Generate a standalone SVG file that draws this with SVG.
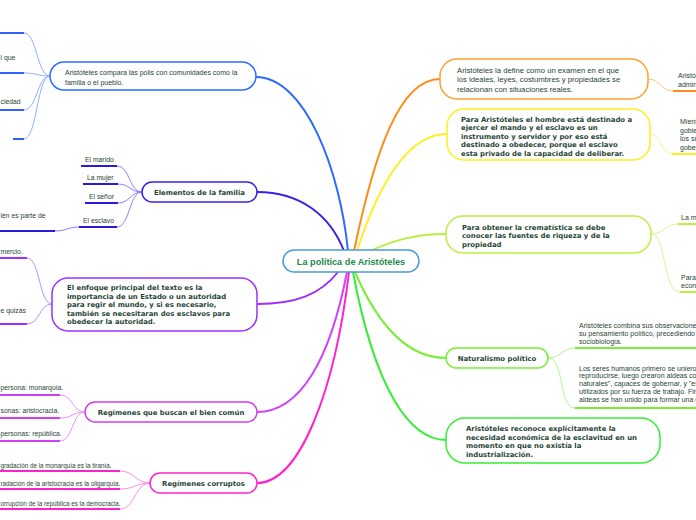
<svg xmlns="http://www.w3.org/2000/svg" width="696" height="520" viewBox="0 0 696 520">
<style>
.box{fill:#fff;stroke-width:1.5}
.t{font-family:"Liberation Sans",Arial,sans-serif;font-size:7px;fill:#1f4535}
.tn{font-family:"Liberation Sans",Arial,sans-serif;font-size:7.7px;fill:#1f4535}
.tb{font-family:"DejaVu Sans",Verdana,sans-serif;font-size:6.9px;font-weight:bold;fill:#1f4535}
.ts{font-family:"Liberation Sans",Arial,sans-serif;font-size:6.8px;fill:#1f4535}
.tc{font-family:"Liberation Sans",Arial,sans-serif;font-size:6.3px;fill:#1f4535}
.main{fill:none;stroke-width:2}
.sub{fill:none;stroke-width:1}
.ul{fill:none;stroke-width:2}
</style>
<g id="connectors">
  <path class="main" stroke="#2b6cff" d="M348,251 C340,170 305,77 256,77"/>
  <path class="main" stroke="#3d1fe8" d="M344,251 C330,215 300,192 257,192"/>
  <path class="main" stroke="#ff8c1a" d="M354,251 C375,150 400,79 440,79"/>
  <path class="main" stroke="#ffee22" d="M357,251 C380,180 410,134 447,134"/>
  <path class="main" stroke="#bbf040" d="M370,251 C395,240 415,234 446,234"/>
  <path class="main" stroke="#9b30ff" d="M338,272 C320,295 295,304 257,304"/>
  <path class="main" stroke="#cc44ff" d="M347,272 C330,360 300,412 257,412"/>
  <path class="main" stroke="#ff22cc" d="M349,272 C335,390 300,483 257,483"/>
  <path class="main" stroke="#77ee33" d="M355,272 C380,330 410,358 446,358"/>
  <path class="main" stroke="#33ee33" d="M353,272 C375,390 410,440 446,440"/>
  <g stroke="#8fb0ff" class="sub">
    <path d="M50,76 C37,76 37,33 24,33"/>
    <path d="M50,76 C37,76 37,73 24,73"/>
    <path d="M50,76 C37,76 37,110 24,110"/>
    <path d="M50,76 C37,76 37,139 24,139"/>
  </g>
  <g stroke="#3060ff" class="ul">
    <path d="M0,33 H24"/><path d="M0,73 H24"/><path d="M0,110 H24"/><path d="M13,139 H24"/>
  </g>
  <g stroke="#8a80ff" class="sub">
    <path d="M142,192 C129,192 130,166 117,166"/>
    <path d="M142,192 C130,192 130,184 118,184"/>
    <path d="M142,192 C130,192 130,203 118,203"/>
    <path d="M142,192 C129,192 130,227 117,227"/>
    <path d="M79,227 C67,227 67,231 55,231"/>
  </g>
  <g stroke="#2a1ae0" class="ul">
    <path d="M81,166 H117"/><path d="M83,184 H118"/><path d="M85,203 H118"/><path d="M79,227 H117"/><path d="M0,231 H55"/>
  </g>
  <g stroke="#c090ff" class="sub">
    <path d="M52,304 C39,304 40,258 27,258"/>
    <path d="M52,304 C39,304 40,324 27,324"/>
  </g>
  <g stroke="#9a30ff" class="ul">
    <path d="M0,258 H27"/><path d="M0,324 H27"/>
  </g>
  <g stroke="#e890ff" class="sub">
    <path d="M85,412 C72,412 73,395 60,395"/>
    <path d="M85,412 C72,412 73,418 60,418"/>
    <path d="M85,412 C72,412 73,441 60,441"/>
  </g>
  <g stroke="#d040f0" class="ul">
    <path d="M0,395 H60"/><path d="M0,418 H60"/><path d="M0,441 H60"/>
  </g>
  <g stroke="#ff90e0" class="sub">
    <path d="M150,483 C135,483 135,471 120,471"/>
    <path d="M150,483 C135,483 135,489 120,489"/>
    <path d="M150,483 C135,483 135,509 120,509"/>
  </g>
  <g stroke="#ff22cc" class="ul">
    <path d="M0,471 H120"/><path d="M0,489 H120"/><path d="M0,509 H120"/>
  </g>
  <path class="sub" stroke="#ffc880" d="M648,79 C660,79 661,91 673,91"/>
  <path class="ul" stroke="#ff8c1a" d="M673,91 H696"/>
  <path class="sub" stroke="#fff080" d="M650,134 C661,134 661,154 672,154"/>
  <path class="ul" stroke="#ffee22" d="M672,154 H696"/>
  <path class="sub" stroke="#d8f890" d="M651,234 C665,234 664,224 678,224"/>
  <path class="sub" stroke="#d8f890" d="M651,234 C667,234 662,292 680,292"/>
  <path class="ul" stroke="#bbf040" d="M678,224 H696"/>
  <path class="ul" stroke="#bbf040" d="M680,292 H696"/>
  <path class="sub" stroke="#b0f890" d="M548,358 C562,358 561,348 575,348"/>
  <path class="sub" stroke="#b0f890" d="M548,358 C565,358 558,408 575,408"/>
  <path class="ul" stroke="#77ee33" d="M575,348 H696"/>
  <path class="ul" stroke="#77ee33" d="M575,408 H696"/>
</g>

<g id="center">
  <rect class="box" x="283" y="250" width="136" height="22" rx="11" stroke="#4a9ad8"/>
  <text x="351" y="264.5" text-anchor="middle" font-family="Liberation Sans, Arial, sans-serif" font-size="9.2" font-weight="bold" fill="#1d8a4b">La política de Aristóteles</text>
</g>

<g id="node-polis">
  <rect class="box" x="50" y="62" width="206" height="28" rx="14" stroke="#2b6cff"/>
  <text class="t" x="65" y="75">Aristóteles compara las polis con comunidades como la</text>
  <text class="t" x="65" y="84.5">familia o el pueblo.</text>
</g>
<g id="polis-subs">
  <text class="ts" x="0.5" y="60">l que</text>
  <text class="ts" x="0.5" y="104">ciedad</text>
</g>

<g id="node-familia">
  <rect class="box" x="142" y="182" width="115" height="20" rx="10" stroke="#3d1fe8"/>
  <text class="tb" x="199.5" y="194.5" text-anchor="middle">Elementos de la familia</text>
</g>
<g id="familia-subs">
  <text class="ts" x="85" y="161.5">El marido</text>
  <text class="ts" x="87" y="179.5">La mujer</text>
  <text class="ts" x="89" y="198.5">El señor</text>
  <text class="ts" x="83" y="222.5">El esclavo</text>
  <text class="ts" x="0.5" y="217.5">ién es parte de</text>
</g>

<g id="node-enfoque">
  <rect class="box" x="52" y="278" width="205" height="53" rx="16" stroke="#9b30ff"/>
  <text class="tb" x="67" y="290">El enfoque principal del texto es la</text>
  <text class="tb" x="67" y="298.5">importancia de un Estado o un autoridad</text>
  <text class="tb" x="67" y="307">para regir el mundo, y si es necesario,</text>
  <text class="tb" x="67" y="315.5">también se necesitaran dos esclavos para</text>
  <text class="tb" x="67" y="324">obedecer la autoridad.</text>
</g>
<g id="enfoque-subs">
  <text class="ts" x="0.5" y="253.5">mercio.</text>
  <text class="ts" x="0.5" y="312.5">e quizás</text>
</g>

<g id="node-bien-comun">
  <rect class="box" x="85" y="402" width="172" height="20" rx="10" stroke="#d040f0"/>
  <text class="tb" x="171" y="414.5" text-anchor="middle">Regímenes que buscan el bien común</text>
</g>
<g id="bien-comun-subs">
  <text class="ts" x="0.5" y="389.5">persona: monarquía.</text>
  <text class="ts" x="0.5" y="413">sonas: aristocracia.</text>
  <text class="ts" x="0.5" y="435.5">personas: república.</text>
</g>

<g id="node-corruptos">
  <rect class="box" x="150" y="473" width="107" height="20" rx="10" stroke="#ff22cc"/>
  <text class="tb" x="203.5" y="485.5" text-anchor="middle">Regímenes corruptos</text>
</g>
<g id="corruptos-subs">
  <text class="tc" x="0.5" y="467.5">gradación de la monarquía es la tiranía.</text>
  <text class="tc" x="0.5" y="485.5">radación de la aristocracia es la oligarquía.</text>
  <text class="tc" x="0.5" y="505.5">orrupción de la república es la democracia.</text>
</g>

<g id="node-examen">
  <rect class="box" x="440" y="59" width="208" height="40" rx="17" stroke="#ffa030"/>
  <text class="tn" x="457" y="72.5">Aristóteles la define como un examen en el que</text>
  <text class="tn" x="457" y="82">los ideales, leyes, costumbres y propiedades se</text>
  <text class="tn" x="457" y="91.5">relacionan con situaciones reales.</text>
</g>
<g id="examen-sub">
  <text class="t" x="678" y="78">Aristót</text>
  <text class="t" x="678" y="86.5">admin</text>
</g>

<g id="node-mando">
  <rect class="box" x="447" y="109" width="203" height="51" rx="17" stroke="#ffee22"/>
  <text class="tb" x="461" y="121.5">Para Aristóteles el hombre está destinado a</text>
  <text class="tb" x="461" y="130">ejercer el mando y el esclavo es un</text>
  <text class="tb" x="461" y="138.5">instrumento y servidor y por eso está</text>
  <text class="tb" x="461" y="147">destinado a obedecer, porque el esclavo</text>
  <text class="tb" x="461" y="155.5">esta privado de la capacidad de deliberar.</text>
</g>
<g id="mando-sub">
  <text class="t" x="680" y="124">Mient</text>
  <text class="t" x="680" y="132.5">gobie</text>
  <text class="t" x="680" y="141">los su</text>
  <text class="t" x="680" y="149.5">gober</text>
</g>

<g id="node-crematistica">
  <rect class="box" x="446" y="216" width="205" height="37" rx="17" stroke="#bbf040"/>
  <text class="tb" x="462" y="229.5">Para obtener la crematística se debe</text>
  <text class="tb" x="462" y="238">conocer las fuentes de riqueza y de la</text>
  <text class="tb" x="462" y="246.5">propiedad</text>
</g>
<g id="crematistica-subs">
  <text class="t" x="681" y="219.5">La m</text>
  <text class="t" x="681" y="279.5">Para</text>
  <text class="t" x="681" y="288">econ</text>
</g>

<g id="node-naturalismo">
  <rect class="box" x="446" y="348" width="102" height="20" rx="10" stroke="#77ee33"/>
  <text class="tb" x="497" y="360.5" text-anchor="middle">Naturalismo político</text>
</g>
<g id="naturalismo-subs">
  <text class="t" x="579" y="327.5">Aristóteles combina sus observaciones</text>
  <text class="t" x="579" y="335.5">su pensamiento político, precediendo a</text>
  <text class="t" x="579" y="343.5">sociobiología.</text>
  <text class="t" x="579" y="370.5">Los seres humanos primero se unieron</text>
  <text class="t" x="579" y="378.3">reproducirse, luego crearon aldeas con</text>
  <text class="t" x="579" y="386">naturales", capaces de gobernar, y "es</text>
  <text class="t" x="579" y="393.8">utilizados por su fuerza de trabajo. Fin</text>
  <text class="t" x="579" y="401.5">aldeas se han unido para formar una c</text>
</g>

<g id="node-esclavitud">
  <rect class="box" x="446" y="418" width="214" height="45" rx="19" stroke="#33ee33"/>
  <text class="tb" x="466" y="430.5">Aristóteles reconoce explícitamente la</text>
  <text class="tb" x="466" y="439.5">necesidad económica de la esclavitud en un</text>
  <text class="tb" x="466" y="448">momento en que no existía la</text>
  <text class="tb" x="466" y="456.5">industrialización.</text>
</g>
</svg>
